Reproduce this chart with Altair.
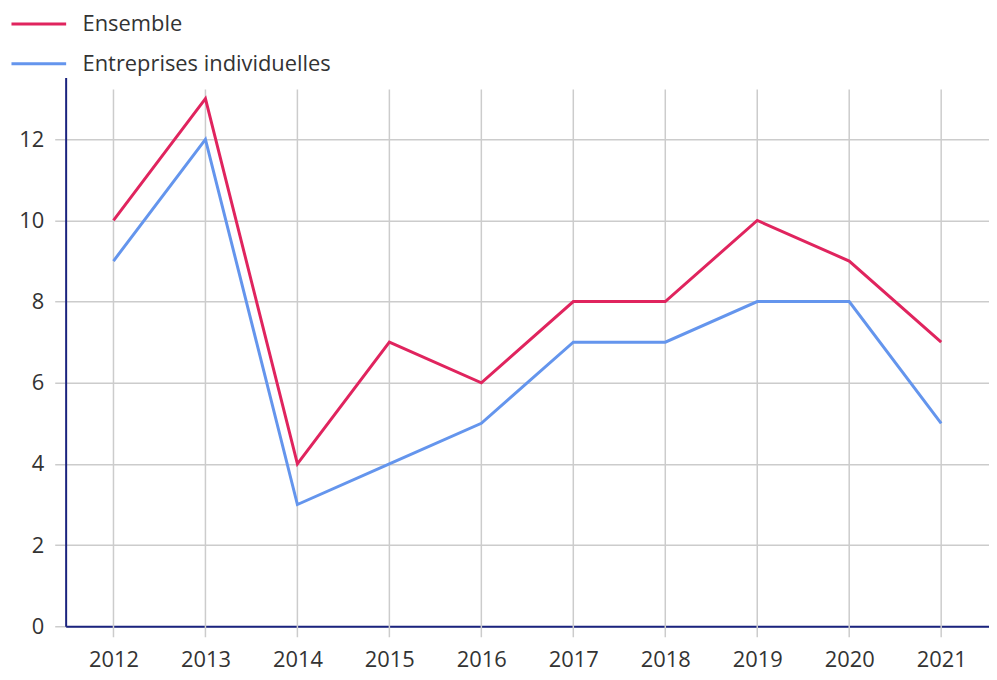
import altair as alt
import pandas as pd

years = ["2012", "2013", "2014", "2015", "2016", "2017", "2018", "2019", "2020", "2021"]
ensemble = [10, 13, 4, 7, 6, 8, 8, 10, 9, 7]
entreprises = [9, 12, 3, 4, 5, 7, 7, 8, 8, 5]
series_names = ["Ensemble", "Entreprises individuelles"]
colors = ["#E0245E", "#6495ED"]

rows = []
for y, a, b in zip(years, ensemble, entreprises):
    rows.append({"year": y, "series": series_names[0], "value": a})
    rows.append({"year": y, "series": series_names[1], "value": b})
df = pd.DataFrame(rows)
years_df = pd.DataFrame({"year": years})

W, H = 929, 552
FONT = "Open Sans"

xscale = alt.Scale(type="point", padding=0.52, domain=years)
yscale = alt.Scale(domain=[0, 13.52], nice=False, zero=True)

grid_v = alt.Chart(years_df).mark_rule(color="#cccccc", strokeWidth=1.5).encode(
    x=alt.X("year:N", scale=xscale, title=None),
    y=alt.value(12),
    y2=alt.value(H + 11),
)

lines = alt.Chart(df).mark_line(strokeWidth=3).encode(
    x=alt.X("year:N", scale=xscale, title=None),
    y=alt.Y("value:Q", scale=yscale, title=None,
            axis=alt.Axis(values=[0, 2, 4, 6, 8, 10, 12])),
    color=alt.Color("series:N", scale=alt.Scale(domain=series_names, range=colors),
                    legend=alt.Legend(title=None, orient="none", legendX=-56, legendY=-83,
                                      direction="vertical")),
    order=alt.Order("series:N"),
)

chart = alt.layer(grid_v, lines).properties(
    width=W, height=H,
    autosize=alt.AutoSizeParams(type="none"),
    padding={"left": 58, "top": 68, "right": 0, "bottom": 44},
).configure_view(stroke=None).configure_axisX(
    grid=False, labelAngle=0, ticks=False,
    labelPadding=23, domainColor="#1a237e", domainWidth=2,
    labelFontSize=22, labelColor="#333333", labelFont=FONT,
).configure_axisY(
    grid=True, gridColor="#cccccc", gridWidth=1.5, tickColor="#cccccc", tickWidth=1.5,
    tickSize=11, labelPadding=11, domainColor="#1a237e", domainWidth=2,
    labelFontSize=22, labelColor="#333333", labelFont=FONT,
).configure_legend(
    symbolType="stroke", symbolSize=3025, symbolStrokeWidth=3,
    labelFontSize=22, labelFont=FONT, labelColor="#333333", labelLimit=500,
    labelOffset=15, rowPadding=-21,
)

chart.save("out.html", embed_options={"renderer": "svg", "actions": False})
